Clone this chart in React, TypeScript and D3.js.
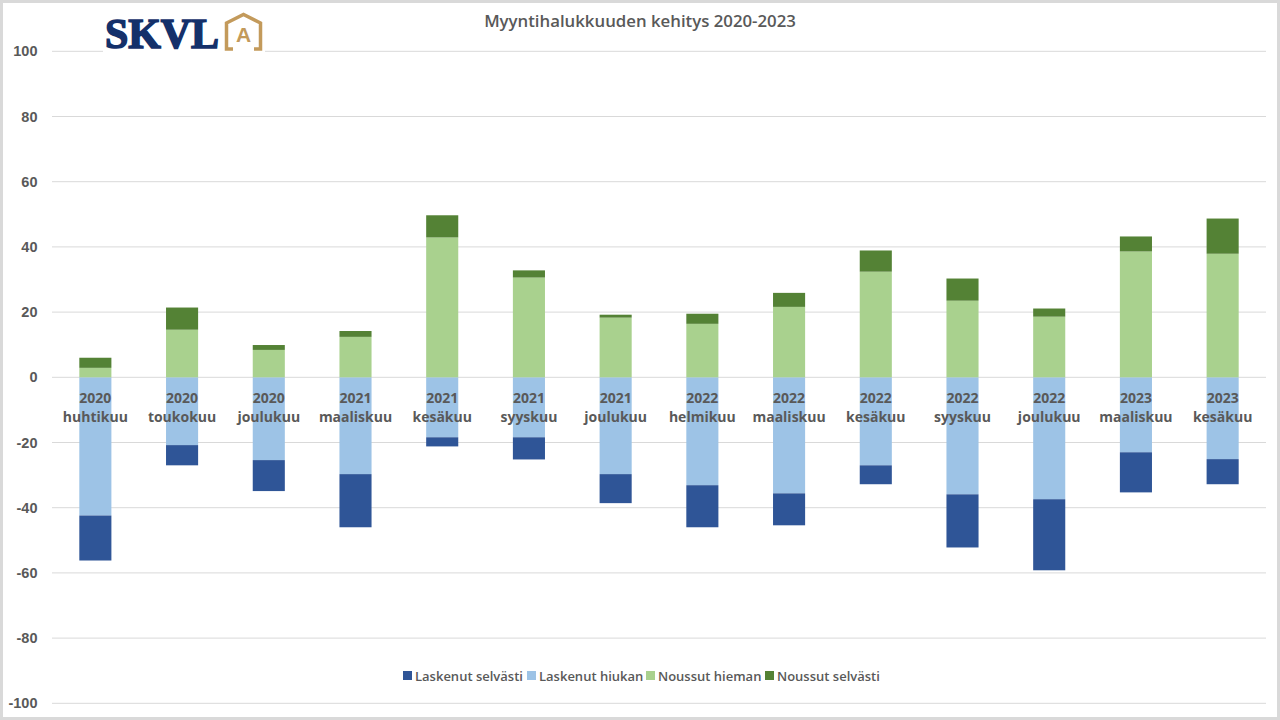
import * as d3 from "d3";

const years = ["2020", "2020", "2020", "2021", "2021", "2021", "2021", "2022", "2022", "2022", "2022", "2022", "2023", "2023"];
const months = ["huhtikuu", "toukokuu", "joulukuu", "maaliskuu", "kesäkuu", "syyskuu", "joulukuu", "helmikuu", "maaliskuu", "kesäkuu", "syyskuu", "joulukuu", "maaliskuu", "kesäkuu"];

// shares (%), negatives drawn below zero
const laskenutSelvasti = [13.8, 6.2, 9.5, 16.3, 2.8, 6.8, 8.9, 12.9, 9.8, 5.8, 16.3, 21.8, 12.3, 7.7];
const laskenutHiukan = [42.4, 20.8, 25.4, 29.7, 18.4, 18.4, 29.7, 33.1, 35.6, 27.0, 35.9, 37.4, 23.0, 25.1];
const noussutHieman = [2.9, 14.6, 8.4, 12.4, 42.9, 30.6, 18.3, 16.4, 21.6, 32.4, 23.5, 18.6, 38.6, 37.9];
const noussutSelvasti = [3.1, 6.8, 1.5, 1.8, 6.8, 2.2, 0.9, 3.1, 4.3, 6.5, 6.8, 2.5, 4.6, 10.8];

const yTicks = [100, 80, 60, 40, 20, 0, -20, -40, -60, -80, -100];

const series = [
  { key: "Laskenut selvästi", color: "#2f5597" },
  { key: "Laskenut hiukan", color: "#9dc3e6" },
  { key: "Noussut hieman", color: "#a9d18e" },
  { key: "Noussut selvästi", color: "#548235" },
];

const textColor = "#595959";
const font = "'Open Sans', 'Liberation Sans', sans-serif";
const gold = "#c39a5b";

export default function App() {
  const width = 1280;
  const height = 720;

  const rows = months.map((m, i) => ({
    id: i,
    "Laskenut hiukan": -laskenutHiukan[i],
    "Laskenut selvästi": -laskenutSelvasti[i],
    "Noussut hieman": noussutHieman[i],
    "Noussut selvästi": noussutSelvasti[i],
  }));

  // hiukan sits next to zero, so it goes first in the stack
  const stack = d3
    .stack<any>()
    .keys(["Laskenut hiukan", "Laskenut selvästi", "Noussut hieman", "Noussut selvästi"])
    .offset(d3.stackOffsetDiverging);
  const stacked = stack(rows);

  const x = d3
    .scaleBand<number>()
    .domain(rows.map((r) => r.id))
    .range([52, 1266])
    .paddingInner(0.63)
    .paddingOuter(0.315);

  const y = d3.scaleLinear().domain([-100, 100]).range([703.3, 51.3]);

  const colorOf = (k: string) => series.find((s) => s.key === k)!.color;

  const legendX = [403, 527, 646, 765];

  return (
    <svg
      width={width}
      height={height}
      style={{ position: "absolute", left: 0, top: 0 }}
      fontFamily={font}
    >
      <rect width={width} height={height} fill="#d9d9d9" />
      <rect x={3} y={3} width={1274} height={714} fill="#ffffff" />

      {yTicks.map((t) => (
        <g key={t}>
          <line x1={52} x2={1266} y1={y(t)} y2={y(t)} stroke="#d9d9d9" strokeWidth={1} />
          <text
            x={37.5}
            y={y(t)}
            dy="0.35em"
            textAnchor="end"
            fontSize={14.5}
            fontWeight="bold"
            fill={textColor}
            fontFamily="'Liberation Sans', Arial, sans-serif"
          >
            {t}
          </text>
        </g>
      ))}

      {stacked.map((s) => (
        <g key={s.key} fill={colorOf(s.key)}>
          {s.map((d, i) => (
            <rect
              key={i}
              x={x(i)}
              width={x.bandwidth()}
              y={y(Math.max(d[0], d[1]))}
              height={Math.abs(y(d[0]) - y(d[1]))}
            />
          ))}
        </g>
      ))}

      {months.map((m, i) => (
        <text
          key={i}
          x={(x(i) ?? 0) + x.bandwidth() / 2}
          y={y(0)}
          textAnchor="middle"
          fontSize={14}
          fontWeight={700}
          fill={textColor}
        >
          <tspan x={(x(i) ?? 0) + x.bandwidth() / 2} dy={25.5}>
            {years[i]}
          </tspan>
          <tspan x={(x(i) ?? 0) + x.bandwidth() / 2} dy={19.5}>
            {m}
          </tspan>
        </text>
      ))}

      <text x={640} y={27} textAnchor="middle" fontSize={16.8} fontWeight={600} fill={textColor}>
        Myyntihalukkuuden kehitys 2020-2023
      </text>

      {/* logo */}
      <rect x={103} y={10} width={162} height={44} fill="#ffffff" />
      <text
        x={105}
        y={48}
        fontFamily="'Liberation Serif', 'DejaVu Serif', serif"
        fontWeight="bold"
        fontSize={43}
        fill="#14306a"
        stroke="#14306a"
        strokeWidth={1.6}
        textLength={114}
        lengthAdjust="spacingAndGlyphs"
      >
        SKVL
      </text>
      <path
        d="M233,49 L226.5,49 L226.5,23 L243.5,14.5 L260.5,23 L260.5,49 L254,49"
        fill="none"
        stroke={gold}
        strokeWidth={3.5}
      />
      <text
        x={243.5}
        y={41.5}
        textAnchor="middle"
        fontFamily="'Liberation Sans', Arial, sans-serif"
        fontWeight="bold"
        fontSize={21}
        fill={gold}
      >
        A
      </text>

      {series.map((s, i) => (
        <g key={s.key} transform={`translate(${legendX[i]},676)`}>
          <rect x={0} y={-5} width={9} height={9} fill={s.color} />
          <text x={12} y={0} dy="0.35em" fontSize={13} fontWeight={600} fill={textColor}>
            {s.key}
          </text>
        </g>
      ))}
    </svg>
  );
}
